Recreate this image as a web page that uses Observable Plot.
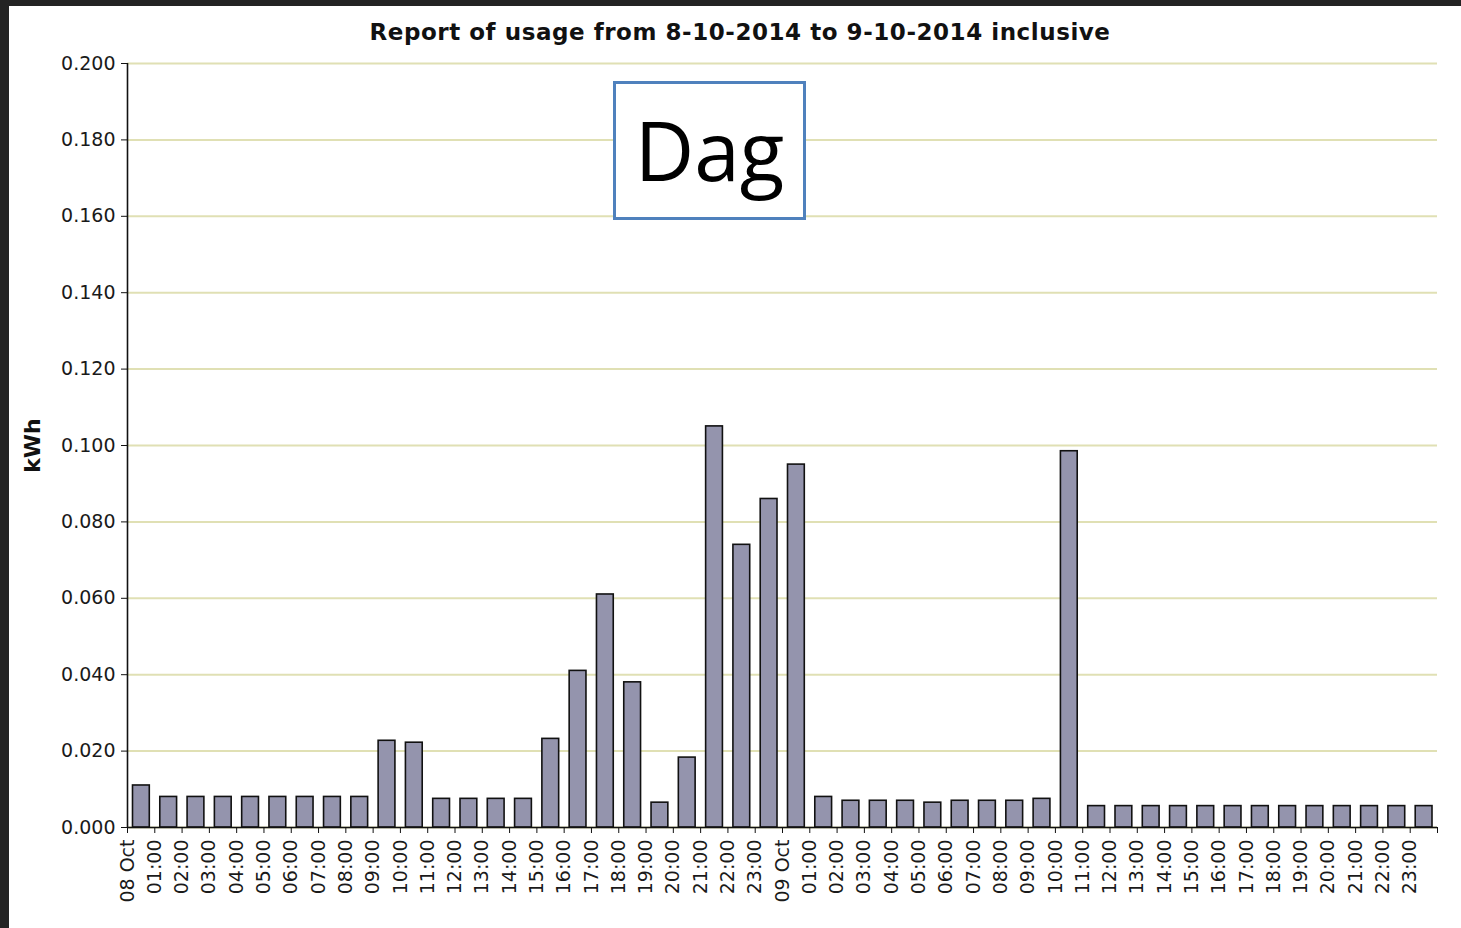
<!DOCTYPE html>
<html>
<head>
<meta charset="utf-8">
<script src="https://cdn.jsdelivr.net/npm/d3@7"></script>
<script src="https://cdn.jsdelivr.net/npm/@observablehq/plot@0.6"></script>
<style>
  html, body { margin: 0; padding: 0; background: #fff; }
  #wrap { position: relative; width: 1461px; height: 928px; overflow: hidden; background: #fff; }
  #chart { position: absolute; left: 0; top: 0; }
  .strip { position: absolute; background: #232323; }
  #title { position: absolute; left: 740px; top: 21px; transform: translateX(-50%); white-space: nowrap;
           font-family: "DejaVu Sans", sans-serif; font-weight: bold; font-size: 23px; letter-spacing: 0.55px;
           color: #111; line-height: 1; }
  #dag { position: absolute; left: 613px; top: 81px; width: 193px; height: 139px; box-sizing: border-box;
         border: 3px solid #4f81bd; background: #fff; display: flex; align-items: center; justify-content: center;
         font-family: "Open Sans", sans-serif; font-size: 82px; color: #000; line-height: 1; padding-bottom: 4px; }
</style>
</head>
<body>
<div id="wrap">
  <div id="chart"></div>
  <div class="strip" style="left:0;top:0;width:1461px;height:6px;"></div>
  <div class="strip" style="left:0;top:0;width:9px;height:928px;"></div>
  <div id="title">Report of usage from 8-10-2014 to 9-10-2014 inclusive</div>
  <div id="dag">Dag</div>
</div>
<script>
const hourLabels = [
  "08 Oct","01:00","02:00","03:00","04:00","05:00","06:00","07:00","08:00","09:00","10:00","11:00",
  "12:00","13:00","14:00","15:00","16:00","17:00","18:00","19:00","20:00","21:00","22:00","23:00",
  "09 Oct","01:00","02:00","03:00","04:00","05:00","06:00","07:00","08:00","09:00","10:00","11:00",
  "12:00","13:00","14:00","15:00","16:00","17:00","18:00","19:00","20:00","21:00","22:00","23:00"
];
const usageKWh = [
  0.011, 0.008, 0.008, 0.008, 0.008, 0.008, 0.008, 0.008, 0.008, 0.0227, 0.0222, 0.0075,
  0.0075, 0.0075, 0.0075, 0.0232, 0.041, 0.061, 0.038, 0.0065, 0.0183, 0.105, 0.074, 0.086,
  0.095, 0.008, 0.007, 0.007, 0.007, 0.0065, 0.007, 0.007, 0.007, 0.0075, 0.0985, 0.0056,
  0.0056, 0.0056, 0.0056, 0.0056, 0.0056, 0.0056, 0.0056, 0.0056, 0.0056, 0.0056, 0.0056, 0.0056
];
const yTicks = [0, 0.02, 0.04, 0.06, 0.08, 0.1, 0.12, 0.14, 0.16, 0.18, 0.2];

const bars = hourLabels.map((label, i) => ({ slot: i, slotEnd: i + 1, label, value: usageKWh[i] }));
const xTickSlots = d3.range(hourLabels.length + 1);

const chart = Plot.plot({
  width: 1461,
  height: 928,
  marginLeft: 127,
  marginRight: 24,
  marginTop: 63,
  marginBottom: 101,
  style: { fontFamily: "DejaVu Sans, sans-serif", fontSize: "19px", color: "#1a1a1a", background: "transparent" },
  x: { type: "linear", domain: [0, hourLabels.length] },
  y: { domain: [0, 0.2] },
  marks: [
    Plot.gridY(yTicks, { stroke: "#e0e0b4", strokeOpacity: 1, strokeWidth: 2 }),
    Plot.rectY(bars, { x1: "slot", x2: "slotEnd", y: "value", fill: "#9494ad", stroke: "#111",
                       strokeWidth: 1.6, insetLeft: 5.5, insetRight: 5 }),
    Plot.ruleY([0], { stroke: "#111", strokeWidth: 1.6 }),
    Plot.ruleX([0], { stroke: "#111", strokeWidth: 1.6 }),
    Plot.axisY(yTicks, { tickFormat: d3.format(".3f"), tickSize: 6, tickPadding: 6, label: null,
                         fontSize: 19, stroke: "#111" }),
    Plot.axisY([], { label: "kWh", labelAnchor: "center", labelArrow: "none", labelOffset: 103,
                     fontSize: 22, fontWeight: "bold", fill: "#111" }),
    Plot.axisX(xTickSlots, { tickFormat: i => hourLabels[i] ?? "", tickRotate: -90, tickSize: 6,
                             tickPadding: 6, label: null, fontSize: 19, stroke: "#111" })
  ]
});
document.getElementById("chart").appendChild(chart);
</script>
</body>
</html>
